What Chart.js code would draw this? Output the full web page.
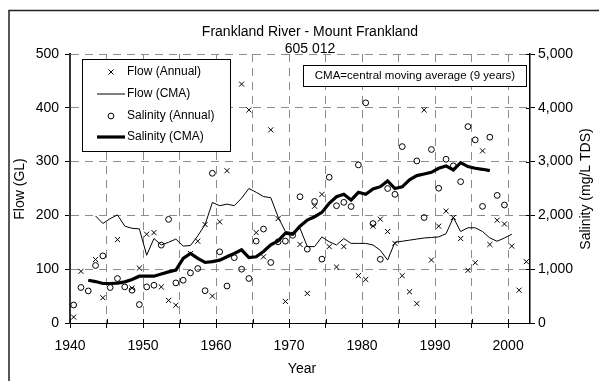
<!DOCTYPE html>
<html>
<head>
<meta charset="utf-8">
<script src="https://cdn.jsdelivr.net/npm/chart.js@4.4.0/dist/chart.umd.min.js"></script>
<style>
html,body{margin:0;padding:0;background:#fff;}
#caja{width:599px;height:381px;}
</style>
</head>
<body>
<div id="caja"><canvas id="grafica" width="599" height="381"></canvas></div>
<script>
// años hidrológicos 1940 - 2002
const anios = [1940,1941,1942,1943,1944,1945,1946,1947,1948,1949,
  1950,1951,1952,1953,1954,1955,1956,1957,1958,1959,
  1960,1961,1962,1963,1964,1965,1966,1967,1968,1969,
  1970,1971,1972,1973,1974,1975,1976,1977,1978,1979,
  1980,1981,1982,1983,1984,1985,1986,1987,1988,1989,
  1990,1991,1992,1993,1994,1995,1996,1997,1998,1999,
  2000,2001,2002];

// caudal anual (GL)
const caudalAnual = [11,96,null,118,47,null,155,null,65,102,
  165,168,67,42,33,null,129,152,183,50,
  188,283,null,444,396,168,123,359,194,40,
  null,146,55,217,239,142,104,142,null,88,
  81,180,193,170,148,88,58,36,396,117,
  180,208,196,157,98,112,320,146,191,184,
  143,61,114];

// caudal, media móvil centrada de 9 años
const caudalCMA = [null,null,null,199,185,194,201,180,176,175,
  126,157,145,150,156,143,144,162,183,224,
  218,221,218,232,250,243,235,233,197,170,
  168,176,142,142,160,151,145,157,148,148,
  148,145,135,117,150,152,154,156,158,159,
  160,166,196,170,177,177,170,158,152,158,
  165,null,null];

// salinidad anual (mg/L TDS)
const salAnual = [335,660,596,1069,1248,660,827,671,609,343,
  671,702,1447,1926,745,795,931,1013,600,2783,
  1323,687,1215,1000,827,1522,1746,1125,1509,1522,
  1630,2347,1373,2260,1187,2709,2180,2243,2165,2938,
  4093,1848,1184,2500,2392,3279,null,3012,1960,3225,
  2505,3044,2922,2627,3651,3404,2168,3454,2372,2193,
  null,null,null];

// salinidad, media móvil centrada de 9 años
const salCMA = [null,null,795,770,734,734,740,764,808,870,
  870,870,910,950,982,1200,1293,1200,1125,1140,
  1168,1230,1293,1360,1215,1230,1330,1455,1525,1670,
  1650,1800,1913,1975,2056,2224,2347,2392,2286,2429,
  2392,2491,2534,2640,2500,2530,2660,2740,2770,2800,
  2876,2919,2845,2981,2907,2876,2857,2832,null,null,
  null,null,null];

const ticksCaudal = [0,100,200,300,400,500];
const ticksSal = [0,1000,2000,3000,4000,5000];

const FUENTE = '"Liberation Sans", Arial, sans-serif';

// cada valor se dibuja a mitad del año
function puntos(vals){
  return anios.map((a,i) => vals[i] == null ? null : {x: a + 0.5, y: vals[i]}).filter(p => p);
}

function textoGirado(ctx, txt, x, y){
  ctx.save();
  ctx.translate(x, y);
  ctx.rotate(-Math.PI/2);
  ctx.fillText(txt, 0, 0);
  ctx.restore();
}

// marcas que cruzan el eje (hacia dentro del área)
const marcasInternas = {
  id: 'marcasInternas',
  afterDatasetsDraw(chart){
    const {ctx, chartArea, scales} = chart;
    ctx.save();
    ctx.strokeStyle = '#000';
    ctx.lineWidth = 1;
    ctx.beginPath();
    scales.x.ticks.forEach(t => {
      const x = Math.round(scales.x.getPixelForValue(t.value)) + 0.5;
      ctx.moveTo(x, chartArea.bottom);
      ctx.lineTo(x, chartArea.bottom - 4);
    });
    scales.y2.ticks.forEach(t => {
      const y = Math.round(scales.y2.getPixelForValue(t.value)) + 0.5;
      ctx.moveTo(chartArea.right, y);
      ctx.lineTo(chartArea.right - 4, y);
    });
    ctx.stroke();
    ctx.restore();
  }
};

// título, marco, leyenda y nota
const rotulos = {
  id: 'rotulos',
  afterDraw(chart){
    const ctx = chart.ctx;
    ctx.save();
    ctx.strokeStyle = '#222';
    ctx.lineWidth = 1.5;
    ctx.beginPath();
    ctx.moveTo(9, 381);
    ctx.lineTo(9, 10.5);
    ctx.lineTo(599, 10.5);
    ctx.stroke();

    ctx.fillStyle = '#000';
    ctx.textAlign = 'center';
    ctx.textBaseline = 'alphabetic';
    ctx.font = '14px ' + FUENTE;
    ctx.fillText('Frankland River - Mount Frankland', 310, 36);
    ctx.fillText('605 012', 310, 53);

    ctx.textBaseline = 'middle';
    ctx.fillText('Year', 302, 369);
    textoGirado(ctx, 'Flow (GL)', 20, 189);
    textoGirado(ctx, 'Salinity (mg/L TDS)', 586, 189);

    // nota de la media móvil
    ctx.fillStyle = '#fff';
    ctx.fillRect(303.5, 65.5, 223, 21);
    ctx.strokeStyle = '#000';
    ctx.lineWidth = 1;
    ctx.strokeRect(303.5, 65.5, 223, 21);
    ctx.fillStyle = '#000';
    ctx.font = '11.5px ' + FUENTE;
    ctx.fillText('CMA=central moving average (9 years)', 415, 76);

    // leyenda
    ctx.fillStyle = '#fff';
    ctx.fillRect(82.5, 59.5, 148, 92);
    ctx.strokeRect(82.5, 59.5, 148, 92);
    ctx.textAlign = 'left';
    ctx.font = '12px ' + FUENTE;
    const filas = [72, 94, 116, 137];
    chart.data.datasets.forEach((ds, i) => {
      const y = filas[i];
      ctx.strokeStyle = '#000';
      if (ds.showLine) {
        ctx.lineWidth = ds.borderWidth;
        ctx.beginPath();
        ctx.moveTo(97, y);
        ctx.lineTo(125, y);
        ctx.stroke();
      } else {
        ctx.fillStyle = '#fff';
        Chart.helpers.drawPoint(ctx, {pointStyle: ds.pointStyle, radius: ds.pointRadius, borderWidth: 1}, 111, y);
      }
      ctx.fillStyle = '#000';
      ctx.fillText(ds.label, 127, y);
    });
    ctx.restore();
  }
};

const rejilla = {color: '#8c8c8c', lineWidth: 1, tickColor: '#000', tickLength: 5, tickBorderDash: []};

new Chart(document.getElementById('grafica'), {
  type: 'scatter',
  data: {
    datasets: [
      {label: 'Flow (Annual)', data: puntos(caudalAnual), yAxisID: 'y', showLine: false,
       pointStyle: 'crossRot', pointRadius: 3.6, borderColor: '#000', backgroundColor: '#000', borderWidth: 1},
      {label: 'Flow (CMA)', data: puntos(caudalCMA), yAxisID: 'y', showLine: true,
       pointRadius: 0, borderColor: '#000', borderWidth: 1, tension: 0},
      {label: 'Salinity (Annual)', data: puntos(salAnual), yAxisID: 'y2', showLine: false,
       pointStyle: 'circle', pointRadius: 2.9, borderColor: '#000', backgroundColor: 'rgba(0,0,0,0)', borderWidth: 1},
      {label: 'Salinity (CMA)', data: puntos(salCMA), yAxisID: 'y2', showLine: true,
       pointRadius: 0, borderColor: '#000', borderWidth: 3.2, tension: 0}
    ]
  },
  options: {
    responsive: false,
    animation: false,
    devicePixelRatio: 1,
    layout: {padding: {top: 54, left: 0, right: 0, bottom: 0}},
    plugins: {legend: {display: false}, tooltip: {enabled: false}},
    scales: {
      x: {
        type: 'linear', min: 1940, max: 2003,
        afterFit: s => { s.height = 58; },
        ticks: {stepSize: 5, includeBounds: false, autoSkip: false, maxRotation: 0, padding: 10,
          color: '#000', font: {family: FUENTE, size: 14},
          callback: v => v % 10 === 0 ? String(v) : ''},
        grid: rejilla,
        border: {color: '#000', width: 1, dash: [8, 6]}
      },
      y: {
        position: 'left', min: 0, max: 500,
        afterFit: s => { s.width = 70; },
        afterBuildTicks: s => { s.ticks = ticksCaudal.map(v => ({value: v})); },
        ticks: {padding: 6, color: '#000', font: {family: FUENTE, size: 14}},
        grid: rejilla,
        border: {color: '#333', width: 2, dash: [8, 6]}
      },
      y2: {
        position: 'right', min: 0, max: 5000,
        afterFit: s => { s.width = 69; },
        afterBuildTicks: s => { s.ticks = ticksSal.map(v => ({value: v})); },
        ticks: {padding: 3, color: '#000', font: {family: FUENTE, size: 14},
          callback: v => v.toLocaleString('en-US')},
        grid: {drawOnChartArea: false, tickColor: '#000', tickLength: 5},
        border: {color: '#000', width: 1.5}
      }
    }
  },
  plugins: [marcasInternas, rotulos]
});
</script>
</body>
</html>
